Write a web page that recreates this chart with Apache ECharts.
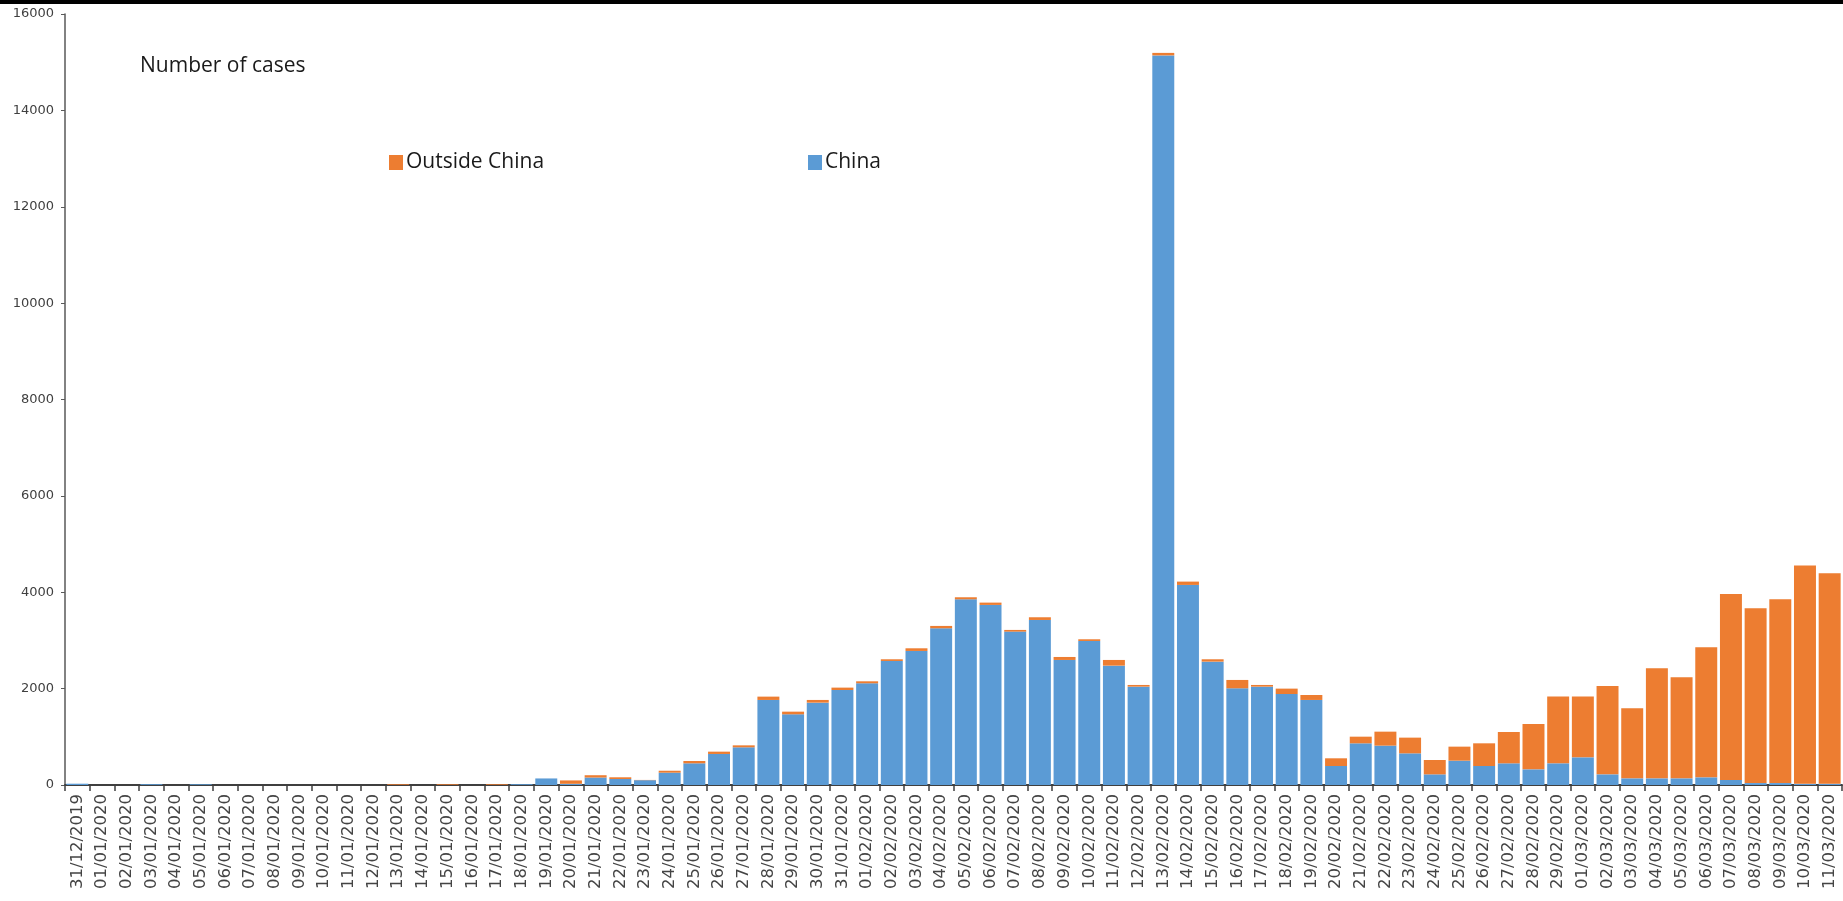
<!DOCTYPE html>
<html>
<head>
<meta charset="utf-8">
<script src="https://cdn.jsdelivr.net/npm/echarts@6/dist/echarts.min.js"></script>
<style>
html,body{margin:0;padding:0;background:#fff;}
#chart{width:1843px;height:901px;}
</style>
</head>
<body>
<div id="chart"></div>
<script>
const categories = [
  '31/12/2019',
  '01/01/2020','02/01/2020','03/01/2020','04/01/2020','05/01/2020','06/01/2020','07/01/2020','08/01/2020','09/01/2020','10/01/2020',
  '11/01/2020','12/01/2020','13/01/2020','14/01/2020','15/01/2020','16/01/2020','17/01/2020','18/01/2020','19/01/2020','20/01/2020',
  '21/01/2020','22/01/2020','23/01/2020','24/01/2020','25/01/2020','26/01/2020','27/01/2020','28/01/2020','29/01/2020','30/01/2020','31/01/2020',
  '01/02/2020','02/02/2020','03/02/2020','04/02/2020','05/02/2020','06/02/2020','07/02/2020','08/02/2020','09/02/2020','10/02/2020',
  '11/02/2020','12/02/2020','13/02/2020','14/02/2020','15/02/2020','16/02/2020','17/02/2020','18/02/2020','19/02/2020','20/02/2020',
  '21/02/2020','22/02/2020','23/02/2020','24/02/2020','25/02/2020','26/02/2020','27/02/2020','28/02/2020','29/02/2020',
  '01/03/2020','02/03/2020','03/03/2020','04/03/2020','05/03/2020','06/03/2020','07/03/2020','08/03/2020','09/03/2020','10/03/2020','11/03/2020'
];

const chinaCases = [
  27,
  0,0,17,0,15,0,0,0,0,0,
  0,0,0,0,0,0,0,17,136,25,
  155,125,100,256,450,644,782,1765,1467,1709,1972,
  2111,2574,2782,3252,3854,3737,3183,3425,2595,2989,
  2477,2041,15141,4152,2560,2007,2041,1889,1765,394,
  865,817,657,221,505,394,450,325,450,
  574,221,138,138,138,159,104,40,40,25,25
];

const outsideCases = [
  0,
  0,0,0,0,0,0,0,0,0,0,
  0,0,15,0,15,0,15,0,0,70,
  48,35,5,40,48,48,41,69,55,56,49,
  41,35,55,49,42,48,35,56,62,35,
  118,35,52,69,49,173,35,111,103,160,
  138,290,326,298,291,471,650,941,1384,
  1260,1834,1454,2284,2097,2699,3861,3628,3814,4528,4369
];

const yTicks = { min: 0, max: 16000, interval: 2000 };

const chart = echarts.init(document.getElementById('chart'));
chart.setOption({
  animation: false,
  backgroundColor: '#ffffff',
  textStyle: { fontFamily: 'Open Sans' },
  title: {
    text: 'Number of cases',
    left: 135,
    top: 51,
    textStyle: { fontFamily: 'Open Sans', fontSize: 21, fontWeight: 'normal', color: '#1a1a1a' }
  },
  legend: [
    {
      data: ['Outside China'],
      left: 384, top: 147,
      icon: 'rect', itemWidth: 14, itemHeight: 15, itemGap: 0,
      textStyle: { fontFamily: 'Open Sans', fontSize: 21, color: '#1a1a1a', padding: [0,0,0,-2] }
    },
    {
      data: ['China'],
      left: 803, top: 147,
      icon: 'rect', itemWidth: 14, itemHeight: 15, itemGap: 0,
      textStyle: { fontFamily: 'Open Sans', fontSize: 21, color: '#1a1a1a', padding: [0,0,0,-2] }
    }
  ],
  graphic: [
    { type: 'rect', left: 0, top: 0, shape: { width: 1843, height: 4 }, style: { fill: '#000' } }
  ],
  grid: { left: 65, right: 1, top: 14, bottom: 116, containLabel: false },
  xAxis: {
    type: 'category',
    data: categories,
    boundaryGap: true,
    axisLine: { lineStyle: { color: '#3f3f3f', width: 2 } },
    axisTick: { show: true, interval: 0, length: 6, lineStyle: { color: '#3f3f3f', width: 1.5 } },
    axisLabel: {
      interval: 0, rotate: 90, margin: 9,
      fontFamily: 'DejaVu Sans', fontSize: 16.5, color: '#444444'
    },
    splitLine: { show: false }
  },
  yAxis: {
    type: 'value',
    min: yTicks.min, max: yTicks.max, interval: yTicks.interval,
    axisLine: { show: true, lineStyle: { color: '#595959', width: 1.5 } },
    axisTick: { show: true, length: 4, lineStyle: { color: '#595959' } },
    axisLabel: {
      margin: 11, fontFamily: 'DejaVu Sans', fontSize: 13, color: '#404040',
      formatter: function (v) { return String(v); }
    },
    splitLine: { show: false }
  },
  series: [
    {
      name: 'China', type: 'bar', stack: 'cases',
      data: chinaCases,
      barCategoryGap: '11%',
      itemStyle: { color: '#5B9BD5' }
    },
    {
      name: 'Outside China', type: 'bar', stack: 'cases',
      data: outsideCases,
      barCategoryGap: '11%',
      itemStyle: { color: '#ED7D31' }
    }
  ]
});
</script>
</body>
</html>
